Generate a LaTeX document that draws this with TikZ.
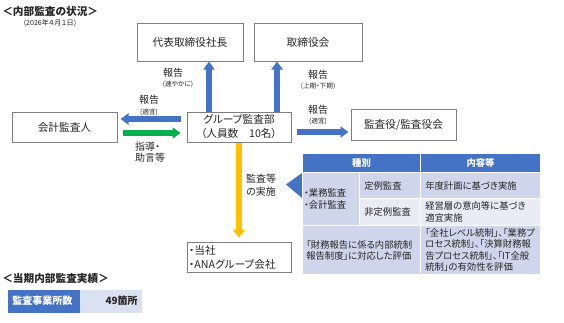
\documentclass[tikz,border=0pt]{standalone}
\usepackage{fontspec}
\setmainfont{Noto Sans CJK JP}[RawFeature={+palt}]
\usetikzlibrary{arrows.meta,calc}
\definecolor{cblue}{HTML}{4472C4}
\definecolor{cgreen}{HTML}{00B050}
\definecolor{cyellow}{HTML}{FFC000}
\definecolor{rowa}{HTML}{CFD5EA}
\definecolor{rowb}{HTML}{E9EBF5}
\definecolor{cellb}{HTML}{DAE1F1}
\definecolor{boxline}{HTML}{7F7F7F}
\definecolor{txt}{HTML}{262626}
\newcommand{\pxu}{0.75pt}
\begin{document}
\begin{tikzpicture}[x=0.75pt,y=-0.75pt,
  box/.style={draw=boxline, line width=1*\pxu, fill=white, inner sep=0pt, text=txt, align=center, font=\fontsize{8}{10}\selectfont},
  lbl/.style={inner sep=0pt, text=txt, font=\fontsize{7.5}{9}\selectfont},
  sml/.style={inner sep=0pt, text=txt, font=\fontsize{5}{6}\selectfont},
  arr/.style={line width=4.1pt, -{Triangle[width=8.25pt,length=6pt]}},
  cell/.style={draw=white, line width=1*\pxu, inner sep=0pt, anchor=north west},
  ctext/.style={inner sep=0pt, anchor=west, align=left, text=txt, font=\fontsize{7}{8.5}\selectfont},
  htext/.style={inner sep=0pt, text=white, font=\bfseries\fontsize{7}{8.5}\selectfont}]
\useasboundingbox (0,0) rectangle (564,322);
% titles
\node[anchor=west, inner sep=0pt, text=txt, font=\bfseries\fontsize{8}{10}\selectfont] (title) at (2,11) {＜内部監査の状況＞};
\node[sml, font=\fontsize{5.3}{6}\selectfont] (date) at (50,23.5) {(2026年４月１日)};
% boxes
\node[box, minimum width=106*\pxu, minimum height=38*\pxu] (ceo) at (190,42) {代表取締役社長};
\node[box, minimum width=108*\pxu, minimum height=38*\pxu] (board) at (308,42) {取締役会};
\node[box, minimum width=105*\pxu, minimum height=30*\pxu] (auditor) at (64.5,127) {会計監査人};
\node[box, minimum width=104*\pxu, minimum height=30*\pxu, font=\fontsize{8}{10.5}\selectfont] (grp) at (239,127) {グループ監査部\\（人員数　10名）};
\node[box, minimum width=105*\pxu, minimum height=31*\pxu] (ksy) at (403.5,124.5) {監査役/監査役会};
\node[box, text width=100*\pxu, inner xsep=2*\pxu, minimum height=30*\pxu, align=left, font=\fontsize{8}{10.5}\selectfont] (subs) at (239,257) {・当社\\・ANAグループ会社};
% arrows
\coordinate (u1) at ($(grp.north)+(-30,0)$);
\coordinate (u2) at ($(grp.north)+(38,0)$);
\draw[arr, cblue] (u1) -- (u1 |- ceo.south);
\draw[arr, cblue] (u2) -- (u2 |- board.south);
\coordinate (l1) at ($(grp.west)+(-6,-8)$);
\draw[arr, cblue, shorten >=3*\pxu] (l1) -- (l1 -| auditor.east);
\coordinate (g1) at ($(auditor.east)+(5,6)$);
\draw[arr, cgreen, shorten >=6*\pxu] (g1) -- (g1 -| grp.west);
\coordinate (r1) at ($(grp.east)+(5,5)$);
\draw[arr, cblue, shorten >=2*\pxu] (r1) -- (r1 -| ksy.west);
\draw[arr, cyellow, line width=4.3pt, -{Triangle[width=9.5pt,length=6pt]}, shorten >=4*\pxu] (grp.south) -- (subs.north);
% labels
\node[lbl] (lb1) at (173,73) {報告};
\node[sml] (lb1s) at (178,84) {(速やかに)};
\node[lbl] (lb2) at (149,100) {報告};
\node[sml] (lb2s) at (149,112) {(適宜)};
\node[lbl, align=left, font=\fontsize{7.5}{8.2}\selectfont] (lb3) at (150,152) {指導・\\助言等};
\node[lbl] (lb4) at (318,74.5) {報告};
\node[sml] (lb4s) at (318,86) {(上期・下期)};
\node[lbl] (lb5) at (318,110) {報告};
\node[sml] (lb5s) at (318,121) {(適宜)};
\node[lbl, align=center, font=\fontsize{7.5}{9.5}\selectfont] (lb6) at (261,185.5) {監査等\\の実施};
% pointer
\fill[cblue] (286,184.5) -- (302,173) -- (302,198) -- cycle;
% table
\node[cell, fill=cblue, minimum width=118*\pxu, minimum height=19*\pxu] (h1) at (302,153) {};
\node[cell, fill=cblue, minimum width=120*\pxu, minimum height=19*\pxu] (h2) at (420,153) {};
\node[cell, fill=rowa, minimum width=57*\pxu, minimum height=53*\pxu] (m1) at (302,172) {};
\node[cell, fill=rowa, minimum width=61*\pxu, minimum height=26*\pxu] (b1) at (359,172) {};
\node[cell, fill=rowa, minimum width=120*\pxu, minimum height=26*\pxu] (c1) at (420,172) {};
\node[cell, fill=rowb, minimum width=61*\pxu, minimum height=27*\pxu] (b2) at (359,198) {};
\node[cell, fill=rowb, minimum width=120*\pxu, minimum height=27*\pxu] (c2) at (420,198) {};
\node[cell, fill=rowa, minimum width=118*\pxu, minimum height=49*\pxu] (a3) at (302,225) {};
\node[cell, fill=rowa, minimum width=120*\pxu, minimum height=49*\pxu] (c3) at (420,225) {};
\node[htext] at (h1.center) {種別};
\node[htext] at (h2.center) {内容等};
\node[ctext] at ([xshift=2*\pxu]m1.west) {・業務監査\\・会計監査};
\node[ctext] at ([xshift=5*\pxu]b1.west) {定例監査};
\node[ctext] at ([xshift=5*\pxu]b2.west) {非定例監査};
\node[ctext] at ([xshift=5*\pxu]c1.west) {年度計画に基づき実施};
\node[ctext] at ([xshift=5*\pxu]c2.west) {経営層の意向等に基づき\\適宜実施};
\node[ctext, font=\fontsize{7}{8.3}\selectfont] at ([xshift=4*\pxu]a3.west) {「財務報告に係る内部統制\\報告制度」に対応した評価};
\node[ctext] at ([xshift=5*\pxu]c3.west) {「全社レベル統制」、「業務プ\\ロセス統制」、「決算財務報\\告プロセス統制」、「IT全般\\統制」の有効性を評価};
% bottom
\node[anchor=west, inner sep=0pt, text=txt, font=\bfseries\fontsize{8}{10}\selectfont] (title2) at (2,278) {＜当期内部監査実績＞};
\node[cell, draw=none, fill=cblue, minimum width=72*\pxu, minimum height=23*\pxu] (k1) at (7,289) {};
\node[cell, draw=none, fill=cellb, minimum width=62*\pxu, minimum height=23*\pxu] (k2) at (79,289) {};
\node[inner sep=0pt, anchor=west, text=white, font=\bfseries\fontsize{7.5}{9}\selectfont] at ([xshift=5*\pxu]k1.west) {監査事業所数};
\node[inner sep=0pt, anchor=east, text=txt, font=\bfseries\fontsize{7.5}{9}\selectfont] at ([xshift=-4*\pxu]k2.east) {49箇所};
\end{tikzpicture}
\end{document}
